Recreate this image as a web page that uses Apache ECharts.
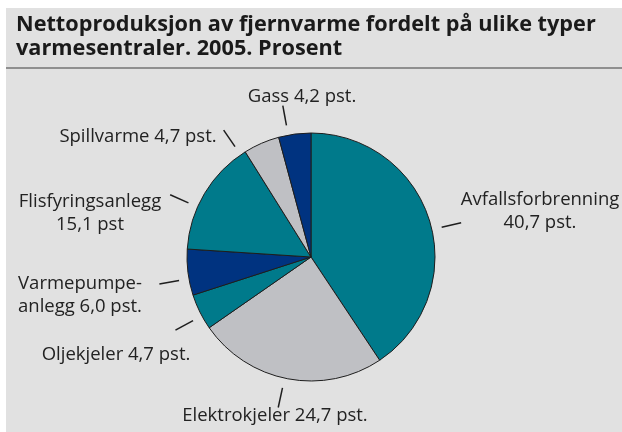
<!DOCTYPE html>
<html>
<head>
<meta charset="utf-8">
<script src="https://cdn.jsdelivr.net/npm/echarts@6/dist/echarts.min.js"></script>
<style>
html,body{margin:0;padding:0;background:#fff;}
#main{width:622px;height:432px;}
</style>
</head>
<body>
<div id="main"></div>
<script>
const titleText = 'Nettoproduksjon av fjernvarme fordelt på ulike typer\nvarmesentraler. 2005. Prosent';
const categories = ['Avfallsforbrenning','Elektrokjeler','Oljekjeler','Varmepumpeanlegg','Flisfyringsanlegg','Spillvarme','Gass'];
const values = [40.7, 24.7, 4.7, 6.0, 15.1, 4.7, 4.2];
const labelTexts = ['Avfallsforbrenning\n40,7 pst.','Elektrokjeler 24,7 pst.','Oljekjeler 4,7 pst.','Varmepumpe-\nanlegg 6,0 pst.','Flisfyringsanlegg\n15,1 pst','Spillvarme 4,7 pst.','Gass 4,2 pst.'];
const colors = ['#007a8b','#bfc0c4','#007a8b','#003380','#007a8b','#bfc0c4','#003380'];
// layout: label centre positions and small rotations (deg) of the leader dashes
const labelPos = [[540,211],[275,416],[116,355],[80,295],[90,213],[138,137],[302,97]];
const dashTurn = [4, 1.5, -2, -3, -7, -11, -3];
const CX = 311, CY = 257;

const chart = echarts.init(document.getElementById('main'), null, {renderer:'canvas'});
const data = categories.map((c,i)=>({name:c, value:values[i], itemStyle:{color:colors[i]}}));
function rot(pt, deg){
  const a = deg*Math.PI/180, dx = pt[0]-CX, dy = pt[1]-CY;
  return [CX + dx*Math.cos(a) - dy*Math.sin(a), CY + dx*Math.sin(a) + dy*Math.cos(a)];
}
const option = {
  backgroundColor:'#ffffff',
  animation:false,
  graphic:[
    {type:'rect', z:-10, shape:{x:6,y:8,width:616,height:424}, style:{fill:'#e1e1e1'}},
    {type:'rect', z:-9, shape:{x:6,y:67,width:616,height:2}, style:{fill:'#8f8f8f'}}
  ],
  title:{
    text:titleText, left:11, top:8,
    textStyle:{fontFamily:'Open Sans', fontSize:21.7, fontWeight:'bold', color:'#1a1a1a', lineHeight:24}
  },
  series:[
    {
      type:'pie', center:[CX,CY], radius:124, startAngle:90, clockwise:true,
      avoidLabelOverlap:false, silent:true,
      itemStyle:{borderColor:'#1e1e1e', borderWidth:1},
      label:{show:true, position:'outside', formatter:(p)=>labelTexts[p.dataIndex],
        fontFamily:'Open Sans', fontSize:18.5, color:'#222', lineHeight:23, align:'center'},
      labelLine:{show:false},
      labelLayout:(params)=>({x:labelPos[params.dataIndex][0], y:labelPos[params.dataIndex][1], align:'center', verticalAlign:'middle'}),
      emphasis:{disabled:true},
      data:data
    },
    {
      type:'pie', center:[CX,CY], radius:134, startAngle:90, clockwise:true,
      avoidLabelOverlap:false, silent:true,
      itemStyle:{color:'rgba(0,0,0,0)', borderWidth:0},
      label:{show:true, position:'outside', formatter:' ', fontSize:1},
      labelLine:{show:true, length:20, length2:0, lineStyle:{color:'#1e1e1e', width:1.5}},
      labelLayout:(params)=>{
        const pts = params.labelLinePoints;
        if (!pts) return {};
        return {labelLinePoints: pts.map(p=>rot(p, dashTurn[params.dataIndex]))};
      },
      emphasis:{disabled:true},
      data:categories.map((c,i)=>({name:c, value:values[i]}))
    }
  ]
};
chart.setOption(option);
</script>
</body>
</html>
